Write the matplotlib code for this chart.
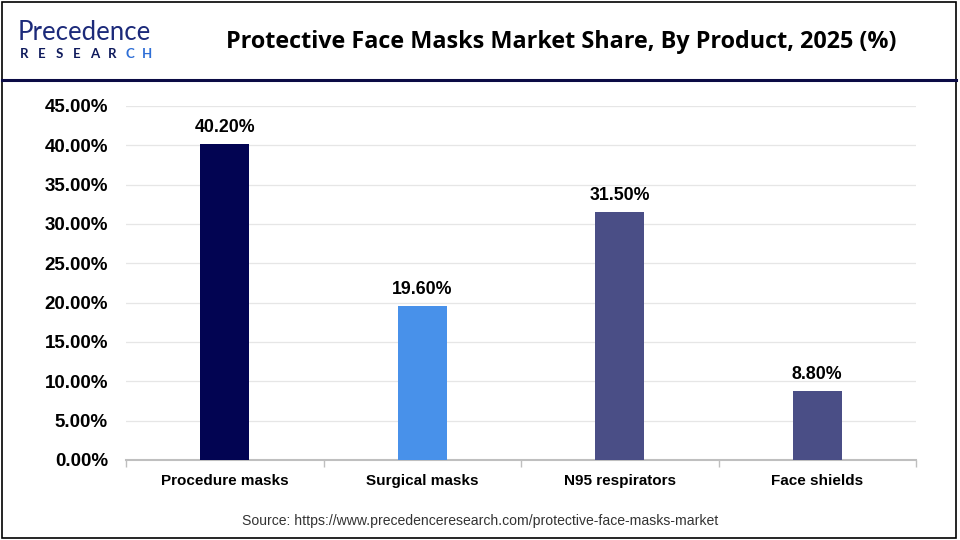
import matplotlib
matplotlib.use('Agg')

import matplotlib.pyplot as plt
from matplotlib.patches import Rectangle
from matplotlib.lines import Line2D

products = ['Procedure masks', 'Surgical masks', 'N95 respirators', 'Face shields']
shares = [40.20, 19.60, 31.50, 8.80]
bar_colors = ['#020452', '#4891ea', '#4a4e86', '#4a4e86']
y_ticks = [0, 5, 10, 15, 20, 25, 30, 35, 40, 45]

fig = plt.figure(figsize=(9.6, 5.4), dpi=100)
fig.patch.set_facecolor('white')

# outer frame and header rule
fig.patches.append(Rectangle((0.002, 0.003), 0.994, 0.994, transform=fig.transFigure,
                             fill=False, edgecolor='black', linewidth=1.2))
fig.lines.append(Line2D([0.002, 0.996], [1 - 80 / 540, 1 - 80 / 540], transform=fig.transFigure,
                        color='#0b0b45', linewidth=2.2))

# logo
fig.text(18 / 960, 1 - 33 / 540, 'Precedence', fontsize=18.5, color='#1c2a7a',
         family='Lato', ha='left', va='center')
for i, ch in enumerate('RESEARCH'):
    fig.text((24 + i * 17.6) / 960, 1 - 54 / 540, ch, fontsize=9.5,
             color='#0f1a5c' if i < 6 else '#2f6fd6',
             family='Lato', fontweight='bold', ha='center', va='center')

fig.text(561 / 960, 1 - 42 / 540, 'Protective Face Masks Market Share, By Product, 2025 (%)',
         fontsize=16.8, fontweight='bold', family='Open Sans', ha='center', va='center')

ax = fig.add_axes([126 / 960, 1 - 460 / 540, 790 / 960, 354 / 540])
x = list(range(len(products)))
bars = ax.bar(x, shares, width=0.25, color=bar_colors, zorder=3)

for xi, v in zip(x, shares):
    ax.text(xi, v + 1.0, f'{v:.2f}%', ha='center', va='bottom', fontsize=12.8,
            fontweight='bold', family='Liberation Sans')

ax.set_xlim(-0.5, len(products) - 0.5)
ax.set_ylim(0, 45)
ax.set_yticks(y_ticks)
ax.set_yticklabels([f'{t:.2f}%' for t in y_ticks], fontsize=13.5, fontweight='bold',
                   family='Liberation Sans')
ax.set_xticks(x)
ax.set_xticklabels(products, fontsize=11, fontweight='bold', family='Liberation Sans')
ax.set_xticks([i - 0.5 for i in range(len(products) + 1)], minor=True)
ax.tick_params(axis='x', which='major', length=0, pad=10)
ax.tick_params(axis='x', which='minor', length=5, color='#bfbfbf', width=1)
ax.tick_params(axis='y', length=0, pad=13)

ax.grid(axis='y', color='#e6e6e6', linewidth=0.9, zorder=0)
for side in ['top', 'right', 'left']:
    ax.spines[side].set_visible(False)
ax.spines['bottom'].set_color('#bfbfbf')
ax.spines['bottom'].set_linewidth(1.5)

fig.text(480 / 960, 1 - 521 / 540,
         'Source: https://www.precedenceresearch.com/protective-face-masks-market',
         fontsize=10.1, color='#333333', family='Liberation Sans', ha='center', va='center')

fig.savefig('out.png', dpi=100)
